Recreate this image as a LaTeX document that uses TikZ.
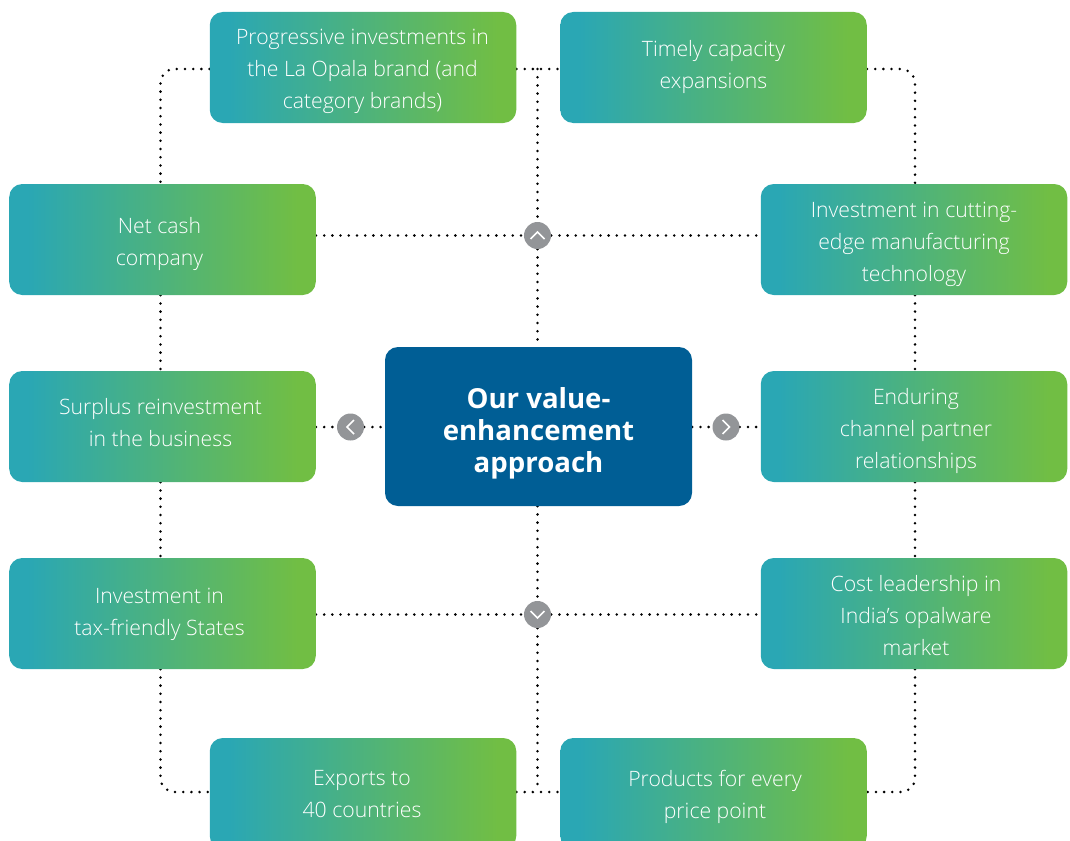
\documentclass[tikz,border=0pt]{standalone}
\usepackage{fontspec}
\setmainfont{Open Sans Light}[BoldFont=Open Sans]
\newfontfamily\headfont{Open Sans}[BoldFont=Open Sans Bold]
\usetikzlibrary{backgrounds}
\definecolor{tealc}{RGB}{42,167,180}
\definecolor{greenc}{RGB}{113,190,68}
\definecolor{bluec}{RGB}{0,94,149}
\definecolor{badgec}{RGB}{147,149,152}
\pgfdeclarehorizontalshading{tealgreen}{100bp}{color(0bp)=(tealc); color(28bp)=(tealc); color(72bp)=(greenc); color(100bp)=(greenc)}
\tikzset{
  x=1bp,y=-1bp,
  gbox/.style={minimum width=306.5bp,minimum height=111bp,inner sep=0pt,rounded corners=13bp,
    shading=tealgreen},
  gtext/.style={text=white,align=center,inner sep=0pt,font=\fontsize{21.2bp}{32bp}\selectfont},
  cbox/.style={minimum width=307bp,minimum height=159bp,inner sep=0pt,rounded corners=13bp,
    fill=bluec},
  ctext/.style={text=white,align=center,inner sep=0pt,font=\headfont\bfseries\fontsize{27.6bp}{32bp}\selectfont},
  badge/.style={circle,fill=badgec,minimum size=27bp,inner sep=0pt},
  dots/.style={draw=black,line width=2.8bp,line cap=round,dash pattern=on 0pt off 8.2bp},
  rdots/.style={dots,rounded corners=14bp},
  chev/.style={draw=white,line width=1.5bp}
}
\begin{document}
\begin{tikzpicture}
\useasboundingbox (0,0) rectangle (1070,841);
\clip (0,0) rectangle (1070,841);
\node[gbox,label={[gtext,xshift=-0.5bp,yshift=-4bp]center:Progressive investments in\\the La Opala brand (and\\category brands)}] (tl) at (363,67.5) {};
\node[gbox,label={[gtext,yshift=1bp]center:Timely capacity\\expansions}] (tr) at (713.5,67.5) {};
\node[gbox,label={[gtext,xshift=-3bp,yshift=-4bp]center:Net cash\\company}] (l1) at (162.5,239.5) {};
\node[gbox,label={[gtext,xshift=-2bp,yshift=4bp]center:Surplus reinvestment\\in the business}] (l2) at (162.5,426.5) {};
\node[gbox,label={[gtext,xshift=-3bp,yshift=-1bp]center:Investment in\\tax-friendly States}] (l3) at (162.5,613.5) {};
\node[gbox,label={[gtext,yshift=-5bp]center:Investment in cutting-\\edge manufacturing\\technology}] (r1) at (914,239.5) {};
\node[gbox,label={[gtext,xshift=2bp,yshift=-4bp]center:Enduring\\channel partner\\relationships}] (r2) at (914,426.5) {};
\node[gbox,label={[gtext,xshift=2bp,yshift=-2bp]center:Cost leadership in\\India’s opalware\\market}] (r3) at (914,613.5) {};
\node[gbox,label={[gtext,xshift=-1bp,yshift=-1bp]center:Exports to\\40 countries}] (bl) at (363,793.5) {};
\node[gbox,label={[gtext,xshift=1.5bp,yshift=-3bp]center:Products for every\\price point}] (br) at (713.5,793.5) {};
\node[cbox,label={[ctext,yshift=-7bp]center:Our value-\\enhancement\\approach}] (ctr) at (538.5,426.5) {};
\node[badge] (bu) at (537.5,235.5) {};
\node[badge] (bd) at (537.5,614.5) {};
\node[badge] (bl2) at (350.5,427) {};
\node[badge] (br2) at (726,427) {};
\draw[chev] ([shift={(-7,3.5)}]bu.center) -- ([shift={(0,-3.5)}]bu.center) -- ([shift={(7,3.5)}]bu.center);
\draw[chev] ([shift={(-7,-3.5)}]bd.center) -- ([shift={(0,3.5)}]bd.center) -- ([shift={(7,-3.5)}]bd.center);
\draw[chev] ([shift={(3.5,-7)}]bl2.center) -- ([shift={(-3.5,0)}]bl2.center) -- ([shift={(3.5,7)}]bl2.center);
\draw[chev] ([shift={(-3.5,-7)}]br2.center) -- ([shift={(3.5,0)}]br2.center) -- ([shift={(-3.5,7)}]br2.center);
\coordinate (railL) at (160.5,0);
\coordinate (railR) at (915,0);
\coordinate (topj) at (537.5,69);
\coordinate (botj) at (537.5,792);
\begin{scope}[on background layer]
\draw[rdots] ([shift={(0,1.5)}]tl.west) -| (railL |- l1.north);
\draw[dots] (railL |- l1.south) -- (railL |- l2.north);
\draw[dots] (railL |- l2.south) -- (railL |- l3.north);
\draw[rdots] (railL |- l3.south) |- ([shift={(0,-1.5)}]bl.west);
\draw[rdots] ([shift={(0,1.5)}]tr.east) -| (railR |- r1.north);
\draw[dots] (railR |- r1.south) -- (railR |- r2.north);
\draw[dots] (railR |- r2.south) -- (railR |- r3.north);
\draw[rdots] (railR |- r3.south) |- ([shift={(0,-1.5)}]br.east);
\draw[dots] ([shift={(0,1.5)}]tl.east) -- ([shift={(0,1.5)}]tr.west);
\draw[dots] ([shift={(0,-1.5)}]bl.east) -- ([shift={(0,-1.5)}]br.west);
\draw[dots] (topj) -- (bu);
\draw[dots] (bu) -- (ctr.north -| bu);
\draw[dots] (ctr.south -| bd) -- (bd);
\draw[dots] (bd) -- (botj);
\draw[dots] (l1.east |- bu) -- (bu);
\draw[dots] (bu) -- (r1.west |- bu);
\draw[dots] (l3.east |- bd) -- (bd);
\draw[dots] (bd) -- (r3.west |- bd);
\draw[dots] (l2.east |- bl2) -- (bl2);
\draw[dots] (bl2) -- (ctr.west |- bl2);
\draw[dots] (ctr.east |- br2) -- (br2);
\draw[dots] (br2) -- (r2.west |- br2);
\end{scope}
\end{tikzpicture}
\end{document}
